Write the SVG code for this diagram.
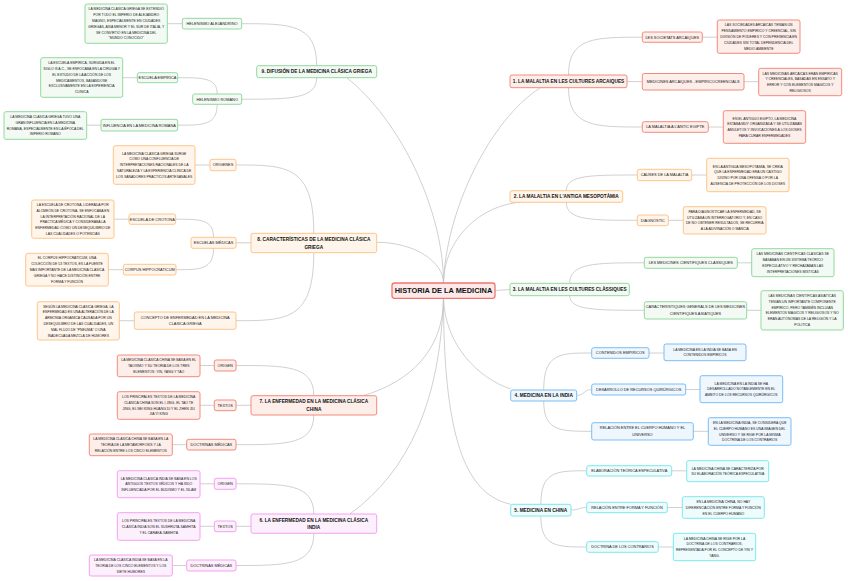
<svg xmlns="http://www.w3.org/2000/svg" width="848" height="581" viewBox="0 0 848 581">
<style>
text{font-family:"Liberation Sans",Arial,sans-serif;text-anchor:middle;fill:#222}
.d{font-size:3.45px}
.l{font-size:3.9px}
.b{font-size:4.75px;font-weight:bold;fill:#111}
.root{font-size:7.4px;font-weight:bold;fill:#111}
rect{stroke-width:1}
.red rect{fill:#fdeeea;stroke:#f28b7d}
.org rect{fill:#fff5ea;stroke:#fcc58d}
.grn rect{fill:#f2faf3;stroke:#93d89f}
.blu rect{fill:#eef6fe;stroke:#7bbdf4}
.cyn rect{fill:#eefcfd;stroke:#7de8eb}
.pnk rect{fill:#fdf0fd;stroke:#f5a0ef}
#connectors path{fill:none;stroke:#c4c4c4;stroke-width:0.8}
</style>
<rect width="848" height="581" fill="#ffffff"/>
<g id="connectors">
<path d="M443.5,283 C443.5,210 400,120 347,78"/>
<path d="M443.5,283 C443.5,262 415,242.3 376.7,242.3"/>
<path d="M443.5,283 C446,210 490,120 540,88"/>
<path d="M443.5,283 C443.5,240 480,204 523,202"/>
<path d="M495,290.5 L510,289.5"/>
<path d="M443.5,298.3 C443.5,350 410,382 363,395.7"/>
<path d="M443.5,298.3 C440,400 410,470 350,514"/>
<path d="M443.5,298.3 C445,345 478,378 510.7,389"/>
<path d="M443.5,298.3 C443.5,450 470,495 510.7,504.3"/>
<path d="M568.5,75 C568.5,37.2 594.5,37.2 642.3,37.2"/>
<path d="M627,81.5 L642.3,81.7"/>
<path d="M568.5,87.7 C568.5,127 594.5,127 642.3,127"/>
<path d="M566.3,190.7 C566.3,175 591,175 637.3,175"/>
<path d="M566.3,202.3 C566.3,220.3 591,220.3 637.3,220.3"/>
<path d="M569.7,283.3 C569.7,262.8 596,262.8 644.3,262.8"/>
<path d="M569.7,295.7 C569.7,310.3 596,310.3 644.3,310.3"/>
<path d="M543.7,390 C543.7,353 560,353 591.7,353"/>
<path d="M576.7,395.5 C584,395.5 584,389.5 591.7,389.5"/>
<path d="M543.7,401 C543.7,431.3 560,431.3 591.7,431.3"/>
<path d="M540.8,504.3 C540.8,470.8 557,470.8 586.7,470.8"/>
<path d="M571,510 C579,510 579,507.5 586.7,507.5"/>
<path d="M540.8,516 C540.8,547 557,547 586.7,547"/>
<path d="M313.8,514 C313.8,483.8 286,483.8 236,483.8"/>
<path d="M251,526.3 L236,526.3"/>
<path d="M313.8,533.3 C313.8,565.5 286,565.5 236,565.5"/>
<path d="M313.8,395.7 C313.8,365.5 286,365.5 236,365.5"/>
<path d="M251,405.3 L236,405.3"/>
<path d="M313.8,415 C313.8,444.7 286,444.7 236,444.7"/>
<path d="M313.8,233.3 C313.8,165 286,165 236,165"/>
<path d="M251,242.8 L236,242.8"/>
<path d="M313.8,252.7 C313.8,320.7 286,320.7 236,320.7"/>
<path d="M316.7,65.7 C316.7,23.7 290,23.7 241.7,23.7"/>
<path d="M316.7,77.7 C316.7,99.2 290,99.2 241.7,99.2"/>
<path d="M217.2,94 C217.2,77.7 203,77.7 177.7,77.7"/>
<path d="M217.2,104.3 C217.2,125.2 203,125.2 177.7,125.2"/>
<path d="M213.5,237.3 C213.5,219.2 200,219.2 175.7,219.2"/>
<path d="M213.5,248.3 C213.5,269.7 200,269.7 176,269.7"/>
<path d="M702.3,37.2 L717.3,37.2"/>
<path d="M744,81.7 L758.7,81.7"/>
<path d="M708.3,127 L723.3,127"/>
<path d="M691.7,175 L706.7,175"/>
<path d="M668.3,220.3 L683.3,220.3"/>
<path d="M737.3,262.8 L751.7,262.8"/>
<path d="M746.7,310.3 L761,310.3"/>
<path d="M649,353 L664,353"/>
<path d="M685.7,389.5 L700,389.5"/>
<path d="M693.3,431.3 L708.3,431.3"/>
<path d="M671.7,470.8 L686.7,470.8"/>
<path d="M667.3,507.5 L682.3,507.5"/>
<path d="M658.3,547 L673.3,547"/>
<path d="M214.3,483.8 L200,483.8"/>
<path d="M214.3,526.3 L200,526.3"/>
<path d="M186.7,565.5 L172.3,565.5"/>
<path d="M214.3,365.5 L200,365.5"/>
<path d="M214.3,405.3 L200,405.3"/>
<path d="M186.7,444.7 L172.3,444.7"/>
<path d="M210,165 L195,165"/>
<path d="M129,219.2 L114,219.2"/>
<path d="M123.3,269.7 L108.3,269.7"/>
<path d="M134.3,320.7 L119.3,320.7"/>
<path d="M182.3,23.7 L167.3,23.7"/>
<path d="M137.3,77.7 L122.7,77.7"/>
<path d="M101,125.2 L86.7,125.2"/>
</g>

<g id="root" class="red"><rect x="392" y="283" width="103" height="15.3" rx="2.5" style="stroke:#f0766f;stroke-width:1.3;fill:#fde9e8"/><text class="root" x="443.5" y="293.3">HISTORIA DE LA MEDICINA</text></g>

<!-- Branch 1 -->
<g id="b1" class="red"><rect x="510" y="75" width="117" height="12.7" rx="2"/><text class="b" x="568.5" y="83">1. LA MALALTIA EN LES CULTURES ARCAIQUES</text></g>
<g id="b1c1" class="red"><rect x="642.3" y="32" width="60" height="10.3" rx="2"/><text class="l" x="672.3" y="38.6">LES SOCIETATS ARCAIQUES</text></g>
<g id="b1d1" class="red"><rect x="717.3" y="20" width="82.7" height="33.3" rx="2"/><text class="d"><tspan x="758.7" y="26.3">LAS SOCIEDADES ARCAICAS TENÍAN UN</tspan><tspan x="758.7" y="32.1">PENSAMIENTO EMPÍRICO Y CREENCIAL, SIN</tspan><tspan x="758.7" y="37.9">DIVISIÓN DE PODERES Y CON PRESENCIA EN</tspan><tspan x="758.7" y="43.7">CIUDADES SIN TOTAL DEPENDENCIA DEL</tspan><tspan x="758.7" y="49.5">MEDIO AMBIENTE</tspan></text></g>
<g id="b1c2" class="red"><rect x="642.3" y="73.5" width="101.7" height="16.5" rx="2"/><text class="l" x="693.2" y="83.1">MEDICINES ARCAIQUES - EMPÍRICOCREENCIALS</text></g>
<g id="b1d2" class="red"><rect x="758.7" y="68.3" width="83" height="27.4" rx="2"/><text class="d"><tspan x="800.2" y="74.5">LAS MEDICINAS ARCAICAS ERAN EMPÍRICAS</tspan><tspan x="800.2" y="80.3">Y CREENCIALES, BASADAS EN ENSAYO Y</tspan><tspan x="800.2" y="86.1">ERROR Y CON ELEMENTOS MÁGICOS Y</tspan><tspan x="800.2" y="91.9">RELIGIOSOS</tspan></text></g>
<g id="b1c3" class="red"><rect x="642.3" y="121.7" width="66" height="10.6" rx="2"/><text class="l" x="675.3" y="128.4">LA MALALTIA A L'ANTIC EGIPTE</text></g>
<g id="b1d3" class="red"><rect x="723.3" y="110.7" width="82.4" height="32.6" rx="2"/><text class="d"><tspan x="764.5" y="119.5">EN EL ANTIGUO EGIPTO, LA MEDICINA</tspan><tspan x="764.5" y="125.3">ESTABA MUY ORGANIZADA Y SE UTILIZABAN</tspan><tspan x="764.5" y="131.1">AMULETOS Y INVOCACIONES A LOS DIOSES</tspan><tspan x="764.5" y="136.9">PARA CURAR ENFERMEDADES</tspan></text></g>

<!-- Branch 2 -->
<g id="b2" class="org"><rect x="510" y="190.7" width="112.7" height="11.6" rx="2"/><text class="b" x="566.3" y="198.1">2. LA MALALTIA EN L'ANTIGA MESOPOTÀMIA</text></g>
<g id="b2c1" class="org"><rect x="637.3" y="169.3" width="54.4" height="11.4" rx="2"/><text class="l" x="664.5" y="176.4">CAUSES DE LA MALALTIA</text></g>
<g id="b2d1" class="org"><rect x="706.7" y="158.3" width="82.3" height="33.4" rx="2"/><text class="d"><tspan x="747.8" y="167.5">EN LA ANTIGUA MESOPOTAMIA, SE CREÍA</tspan><tspan x="747.8" y="173.3">QUE LA ENFERMEDAD ERA UN CASTIGO</tspan><tspan x="747.8" y="179.1">DIVINO POR UNA OFENSA O POR LA</tspan><tspan x="747.8" y="184.9">AUSENCIA DE PROTECCIÓN DE LOS DIOSES</tspan></text></g>
<g id="b2c2" class="org"><rect x="637.3" y="215" width="31" height="10.7" rx="2"/><text class="l" x="652.8" y="221.7">DIAGNÒSTIC</text></g>
<g id="b2d2" class="org"><rect x="683.3" y="206.7" width="82.7" height="27.3" rx="2"/><text class="d"><tspan x="724.7" y="212.8">PARA DIAGNOSTICAR LA ENFERMEDAD, SE</tspan><tspan x="724.7" y="218.6">UTILIZABA UN INTERROGATORIO Y, EN CASO</tspan><tspan x="724.7" y="224.4">DE NO OBTENER RESULTADOS, SE RECURRÍA</tspan><tspan x="724.7" y="230.2">A LA ADIVINACIÓN O MANCIA</tspan></text></g>

<!-- Branch 3 -->
<g id="b3" class="grn"><rect x="510" y="283.3" width="119.3" height="12.4" rx="2"/><text class="b" x="569.7" y="291.1">3. LA MALALTIA EN LES CULTURES CLÀSSIQUES</text></g>
<g id="b3c1" class="grn"><rect x="644.3" y="257.3" width="93" height="11" rx="2"/><text class="l" x="690.8" y="264.2">LES MEDICINES CIENTÍFIQUES CLÀSSIQUES</text></g>
<g id="b3d1" class="grn"><rect x="751.7" y="248.7" width="82.3" height="28" rx="2"/><text class="d"><tspan x="792.8" y="255.2">LAS MEDICINAS CIENTÍFICAS CLÁSICAS SE</tspan><tspan x="792.8" y="261">BASABAN EN UN SISTEMA TEÓRICO</tspan><tspan x="792.8" y="266.8">ESPECULATIVO Y RECHAZABAN LAS</tspan><tspan x="792.8" y="272.6">INTERPRETACIONES MÍSTICAS</tspan></text></g>
<g id="b3c2" class="grn"><rect x="644.3" y="301.7" width="102.4" height="17.3" rx="2"/><text class="l"><tspan x="695.5" y="308.3">CARACTERÍSTIQUES GENERALS DE LES MEDICINES</tspan><tspan x="695.5" y="315">CIENTÍFIQUES ASIÀTIQUES</tspan></text></g>
<g id="b3d2" class="grn"><rect x="761" y="290.7" width="82.3" height="39.3" rx="2"/><text class="d"><tspan x="802.2" y="297">LAS MEDICINAS CIENTÍFICAS ASIÁTICAS</tspan><tspan x="802.2" y="302.8">TENÍAN UN IMPORTANTE COMPONENTE</tspan><tspan x="802.2" y="308.6">EMPÍRICO, PERO TAMBIÉN INCLUÍAN</tspan><tspan x="802.2" y="314.4">ELEMENTOS MÁGICOS Y RELIGIOSOS Y NO</tspan><tspan x="802.2" y="320.2">ERAN AUTÓNOMAS DE LA RELIGIÓN Y LA</tspan><tspan x="802.2" y="326">POLÍTICA</tspan></text></g>

<!-- Branch 4 -->
<g id="b4" class="blu"><rect x="510.7" y="390" width="66" height="11" rx="2"/><text class="b" x="543.7" y="397.1">4. MEDICINA EN LA INDIA</text></g>
<g id="b4c1" class="blu"><rect x="591.7" y="347.7" width="57.3" height="10.6" rx="2"/><text class="l" x="620.3" y="354.4">CONTENIDOS EMPÍRICOS</text></g>
<g id="b4d1" class="blu"><rect x="664" y="344" width="82" height="16.7" rx="2"/><text class="d"><tspan x="705" y="350.6">LA MEDICINA EN LA INDIA SE BASA EN</tspan><tspan x="705" y="356.4">CONTENIDOS EMPÍRICOS</tspan></text></g>
<g id="b4c2" class="blu"><rect x="591.7" y="384" width="94" height="11" rx="2"/><text class="l" x="638.7" y="390.9">DESARROLLO DE RECURSOS QUIRÚRGICOS</text></g>
<g id="b4d2" class="blu"><rect x="700" y="375.7" width="82.7" height="27" rx="2"/><text class="d"><tspan x="741.3" y="384.6">LA MEDICINA EN LA INDIA SE HA</tspan><tspan x="741.3" y="390.4">DESARROLLADO NOTABLEMENTE EN EL</tspan><tspan x="741.3" y="396.2">ÁMBITO DE LOS RECURSOS QUIRÚRGICOS</tspan></text></g>
<g id="b4c3" class="blu"><rect x="591.7" y="422.7" width="101.6" height="17.3" rx="2"/><text class="l"><tspan x="642.5" y="429.3">RELACIÓN ENTRE EL CUERPO HUMANO Y EL</tspan><tspan x="642.5" y="436">UNIVERSO</tspan></text></g>
<g id="b4d3" class="blu"><rect x="708.3" y="417.7" width="82.7" height="27.6" rx="2"/><text class="d"><tspan x="749.7" y="424">EN LA MEDICINA INDIA, SE CONSIDERA QUE</tspan><tspan x="749.7" y="429.8">EL CUERPO HUMANO ES UNA IMAGEN DEL</tspan><tspan x="749.7" y="435.6">UNIVERSO Y SE RIGE POR LA MISMA</tspan><tspan x="749.7" y="441.4">DOCTRINA DE LOS CONTRARIOS</tspan></text></g>

<!-- Branch 5 -->
<g id="b5" class="cyn"><rect x="510.7" y="504.3" width="60.3" height="11.7" rx="2"/><text class="b" x="540.8" y="511.8">5. MEDICINA EN CHINA</text></g>
<g id="b5c1" class="cyn"><rect x="586.7" y="465.7" width="85" height="10.3" rx="2"/><text class="l" x="629.2" y="472.2">ELABORACIÓN TEÓRICA ESPECULATIVA</text></g>
<g id="b5d1" class="cyn"><rect x="686.7" y="460.7" width="82" height="21" rx="2"/><text class="d"><tspan x="727.7" y="469.5">LA MEDICINA CHINA SE CARACTERIZA POR</tspan><tspan x="727.7" y="475.3">SU ELABORACIÓN TEÓRICA ESPECULATIVA</tspan></text></g>
<g id="b5c2" class="cyn"><rect x="586.7" y="502.3" width="80.6" height="10.4" rx="2"/><text class="l" x="627" y="508.9">RELACIÓN ENTRE FORMA Y FUNCIÓN</text></g>
<g id="b5d2" class="cyn"><rect x="682.3" y="496.7" width="82" height="21.6" rx="2"/><text class="d"><tspan x="723.3" y="502.9">EN LA MEDICINA CHINA, NO HAY</tspan><tspan x="723.3" y="508.7">DIFERENCIACIÓN ENTRE FORMA Y FUNCIÓN</tspan><tspan x="723.3" y="514.5">EN EL CUERPO HUMANO</tspan></text></g>
<g id="b5c3" class="cyn"><rect x="586.7" y="541.7" width="71.6" height="10.6" rx="2"/><text class="l" x="622.5" y="548.4">DOCTRINA DE LOS CONTRARIOS</text></g>
<g id="b5d3" class="cyn"><rect x="673.3" y="533.3" width="82.4" height="27.4" rx="2"/><text class="d"><tspan x="714.5" y="539.5">LA MEDICINA CHINA SE RIGE POR LA</tspan><tspan x="714.5" y="545.3">DOCTRINA DE LOS CONTRARIOS,</tspan><tspan x="714.5" y="551.1">REPRESENTADA POR EL CONCEPTO DE YIN Y</tspan><tspan x="714.5" y="556.9">YANG.</tspan></text></g>

<!-- Branch 6 -->
<g id="b6" class="pnk"><rect x="251" y="514" width="125.7" height="19.3" rx="2"/><text class="b"><tspan x="313.8" y="521.5">6. LA ENFERMEDAD EN LA MEDICINA CLÁSICA</tspan><tspan x="313.8" y="529.2">INDIA</tspan></text></g>
<g id="b6c1" class="pnk"><rect x="214.3" y="478.3" width="21.7" height="11" rx="2"/><text class="l" x="225.2" y="485.2">ORIGEN</text></g>
<g id="b6d1" class="pnk"><rect x="117.3" y="470.7" width="82.7" height="27" rx="2"/><text class="d"><tspan x="158.7" y="479.6">LA MEDICINA CLÁSICA INDIA SE BASA EN LOS</tspan><tspan x="158.7" y="485.4">ANTIGUOS TEXTOS VÉDICOS Y HA SIDO</tspan><tspan x="158.7" y="491.2">INFLUENCIADA POR EL BUDISMO Y EL ISLAM</tspan></text></g>
<g id="b6c2" class="pnk"><rect x="214.3" y="521" width="21.7" height="10.7" rx="2"/><text class="l" x="225.2" y="527.7">TEXTOS</text></g>
<g id="b6d2" class="pnk"><rect x="117.3" y="512.7" width="82.7" height="27.6" rx="2"/><text class="d"><tspan x="158.7" y="521.9">LOS PRINCIPALES TEXTOS DE LA MEDICINA</tspan><tspan x="158.7" y="527.7">CLÁSICA INDIA SON EL SUSHRUTA-SAMHITA</tspan><tspan x="158.7" y="533.5">Y EL CARAKA-SAMHITA</tspan></text></g>
<g id="b6c3" class="pnk"><rect x="186.7" y="560" width="49.3" height="11" rx="2"/><text class="l" x="211.3" y="566.9">DOCTRINAS MÉDICAS</text></g>
<g id="b6d3" class="pnk"><rect x="89.3" y="555" width="83" height="21" rx="2"/><text class="d"><tspan x="130.8" y="560.9">LA MEDICINA CLÁSICA INDIA SE BASA EN LA</tspan><tspan x="130.8" y="566.7">TEORÍA DE LOS CINCO ELEMENTOS Y LOS</tspan><tspan x="130.8" y="572.5">SIETE HUMORES</tspan></text></g>

<!-- Branch 7 -->
<g id="b7" class="red"><rect x="251" y="395.7" width="125.7" height="19.3" rx="2"/><text class="b"><tspan x="313.8" y="403.1">7. LA ENFERMEDAD EN LA MEDICINA CLÁSICA</tspan><tspan x="313.8" y="410.8">CHINA</tspan></text></g>
<g id="b7c1" class="red"><rect x="214.3" y="360" width="21.7" height="11" rx="2"/><text class="l" x="225.2" y="366.9">ORIGEN</text></g>
<g id="b7d1" class="red"><rect x="117.3" y="355" width="82.7" height="21.7" rx="2"/><text class="d"><tspan x="158.7" y="361.2">LA MEDICINA CLÁSICA CHINA SE BASA EN EL</tspan><tspan x="158.7" y="367">TAOÍSMO Y SU TEORÍA DE LOS TRES</tspan><tspan x="158.7" y="372.8">ELEMENTOS: YIN, YANG Y TAO</tspan></text></g>
<g id="b7c2" class="red"><rect x="214.3" y="400" width="21.7" height="10.7" rx="2"/><text class="l" x="225.2" y="406.7">TEXTOS</text></g>
<g id="b7d2" class="red"><rect x="117.3" y="391.7" width="82.7" height="27.6" rx="2"/><text class="d"><tspan x="158.7" y="398">LOS PRINCIPALES TEXTOS DE LA MEDICINA</tspan><tspan x="158.7" y="403.8">CLÁSICA CHINA SON EL I JING, EL TAO TE</tspan><tspan x="158.7" y="409.6">JING, EL NEI KING HUANG DI Y EL ZHEN JIU</tspan><tspan x="158.7" y="415.4">JIA YI KING</tspan></text></g>
<g id="b7c3" class="red"><rect x="186.7" y="439.3" width="49.3" height="10.7" rx="2"/><text class="l" x="211.3" y="446.1">DOCTRINAS MÉDICAS</text></g>
<g id="b7d3" class="red"><rect x="89.3" y="434" width="83" height="21.7" rx="2"/><text class="d"><tspan x="130.8" y="440.2">LA MEDICINA CLÁSICA CHINA SE BASA EN LA</tspan><tspan x="130.8" y="446">TEORÍA DE LA METAMORFOSIS Y LA</tspan><tspan x="130.8" y="451.8">RELACIÓN ENTRE LOS CINCO ELEMENTOS</tspan></text></g>

<!-- Branch 8 -->
<g id="b8" class="org"><rect x="251" y="233.3" width="125.7" height="19.4" rx="2"/><text class="b"><tspan x="313.8" y="240.8">8. CARACTERÍSTICAS DE LA MEDICINA CLÁSICA</tspan><tspan x="313.8" y="248.5">GRIEGA</tspan></text></g>
<g id="b8c1" class="org"><rect x="210" y="159.3" width="26" height="11.4" rx="2"/><text class="l" x="223" y="166.4">ORÍGENES</text></g>
<g id="b8d1" class="org"><rect x="113.3" y="145.7" width="81.7" height="38.6" rx="2"/><text class="d"><tspan x="154.2" y="154.6">LA MEDICINA CLÁSICA GRIEGA SURGE</tspan><tspan x="154.2" y="160.4">COMO UNA CONFLUENCIA DE</tspan><tspan x="154.2" y="166.2">INTERPRETACIONES RACIONALES DE LA</tspan><tspan x="154.2" y="172">NATURALEZA Y LA EXPERIENCIA CLÍNICA DE</tspan><tspan x="154.2" y="177.8">LOS SANADORES PRÁCTICOS ARTESANALES</tspan></text></g>
<g id="b8c2" class="org"><rect x="191" y="237.3" width="45" height="11" rx="2"/><text class="l" x="213.5" y="244.2">ESCUELAS MÉDICAS</text></g>
<g id="b8c2a" class="org"><rect x="129" y="214" width="46.7" height="10.3" rx="2"/><text class="l" x="152.3" y="220.6">ESCUELA DE CROTONA</text></g>
<g id="b8d2a" class="org"><rect x="31.7" y="200" width="82.3" height="38.3" rx="2"/><text class="d"><tspan x="72.8" y="205.9">LA ESCUELA DE CROTONA, LIDERADA POR</tspan><tspan x="72.8" y="211.7">ALCMEÓN DE CROTONA, SE ENFOCABA EN</tspan><tspan x="72.8" y="217.5">LA INTERPRETACIÓN RACIONAL DE LA</tspan><tspan x="72.8" y="223.3">PRÁCTICA MÉDICA Y CONSIDERABA LA</tspan><tspan x="72.8" y="229.1">ENFERMEDAD COMO UN DESEQUILIBRIO DE</tspan><tspan x="72.8" y="234.9">LAS CUALIDADES O POTENCIAS</tspan></text></g>
<g id="b8c2b" class="org"><rect x="123.3" y="264.3" width="52.7" height="10.7" rx="2"/><text class="l" x="149.7" y="271.1">CORPUS HIPPOCRATICUM</text></g>
<g id="b8d2b" class="org"><rect x="25.7" y="253.3" width="82.6" height="32.7" rx="2"/><text class="d"><tspan x="67" y="259.3">EL CORPUS HIPPOCRATICUM, UNA</tspan><tspan x="67" y="265.1">COLECCIÓN DE 53 TEXTOS, ES LA FUENTE</tspan><tspan x="67" y="270.9">MÁS IMPORTANTE DE LA MEDICINA CLÁSICA</tspan><tspan x="67" y="276.7">GRIEGA Y NO HACE DISTINCIÓN ENTRE</tspan><tspan x="67" y="282.5">FORMA Y FUNCIÓN</tspan></text></g>
<g id="b8c3" class="org"><rect x="134.3" y="312" width="101.7" height="17.3" rx="2"/><text class="l"><tspan x="185.2" y="318.7">CONCEPTO DE ENFERMEDAD EN LA MEDICINA</tspan><tspan x="185.2" y="325.4">CLÁSICA GRIEGA</tspan></text></g>
<g id="b8d3" class="org"><rect x="37.3" y="301.7" width="82" height="38.3" rx="2"/><text class="d"><tspan x="78.3" y="307.5">SEGÚN LA MEDICINA CLÁSICA GRIEGA, LA</tspan><tspan x="78.3" y="313.3">ENFERMEDAD ES UNA ALTERACIÓN DE LA</tspan><tspan x="78.3" y="319.1">ARMONÍA ORGÁNICA CAUSADA POR UN</tspan><tspan x="78.3" y="324.9">DESEQUILIBRIO DE LAS CUALIDADES, UN</tspan><tspan x="78.3" y="330.7">MAL FLUJO DE "PNEUMA" O UNA</tspan><tspan x="78.3" y="336.5">INADECUADA MEZCLA DE HUMORES</tspan></text></g>

<!-- Branch 9 -->
<g id="b9" class="grn"><rect x="256.7" y="65.7" width="120" height="12" rx="2"/><text class="b" x="316.7" y="73.3">9. DIFUSIÓN DE LA MEDICINA CLÁSICA GRIEGA</text></g>
<g id="b9c1" class="grn"><rect x="182.3" y="18.3" width="59.4" height="10.7" rx="2"/><text class="l" x="212" y="25.1">HELENISMO ALEJANDRINO</text></g>
<g id="b9d1" class="grn"><rect x="85" y="4" width="82.3" height="39.3" rx="2"/><text class="d"><tspan x="126.2" y="10.4">LA MEDICINA CLÁSICA GRIEGA SE EXTENDIÓ</tspan><tspan x="126.2" y="16.2">POR TODO EL IMPERIO DE ALEJANDRO</tspan><tspan x="126.2" y="22">MAGNO, ESPECIALMENTE EN CIUDADES</tspan><tspan x="126.2" y="27.8">GRIEGAS, ASIA MENOR Y EL SUR DE ITALIA, Y</tspan><tspan x="126.2" y="33.6">SE CONVIRTIÓ EN LA MEDICINA DEL</tspan><tspan x="126.2" y="39.4">"MUNDO CONOCIDO"</tspan></text></g>
<g id="b9c2" class="grn"><rect x="192.7" y="94" width="49" height="10.3" rx="2"/><text class="l" x="217.2" y="100.6">HELENISMO ROMANO</text></g>
<g id="b9c2a" class="grn"><rect x="137.3" y="72.7" width="40.4" height="10" rx="2"/><text class="l" x="157.5" y="79.1">ESCUELA EMPÍRICA</text></g>
<g id="b9d2a" class="grn"><rect x="40.7" y="57.7" width="82" height="39.6" rx="2"/><text class="d"><tspan x="81.7" y="64.2">LA ESCUELA EMPÍRICA, SURGIDA EN EL</tspan><tspan x="81.7" y="70">SIGLO III A.C., SE ENFOCABA EN LA CIRUGÍA Y</tspan><tspan x="81.7" y="75.8">EL ESTUDIO DE LA ACCIÓN DE LOS</tspan><tspan x="81.7" y="81.6">MEDICAMENTOS, BASÁNDOSE</tspan><tspan x="81.7" y="87.4">EXCLUSIVAMENTE EN LA EXPERIENCIA</tspan><tspan x="81.7" y="93.2">CLÍNICA</tspan></text></g>
<g id="b9c2b" class="grn"><rect x="101" y="119.3" width="76.7" height="11.7" rx="2"/><text class="l" x="139.3" y="126.6">INFLUENCIA EN LA MEDICINA ROMANA</text></g>
<g id="b9d2b" class="grn"><rect x="4" y="111.7" width="82.7" height="27.6" rx="2"/><text class="d"><tspan x="45.3" y="118">LA MEDICINA CLÁSICA GRIEGA TUVO UNA</tspan><tspan x="45.3" y="123.8">GRAN INFLUENCIA EN LA MEDICINA</tspan><tspan x="45.3" y="129.6">ROMANA, ESPECIALMENTE EN LA ÉPOCA DEL</tspan><tspan x="45.3" y="135.4">IMPERIO ROMANO</tspan></text></g>
</svg>
